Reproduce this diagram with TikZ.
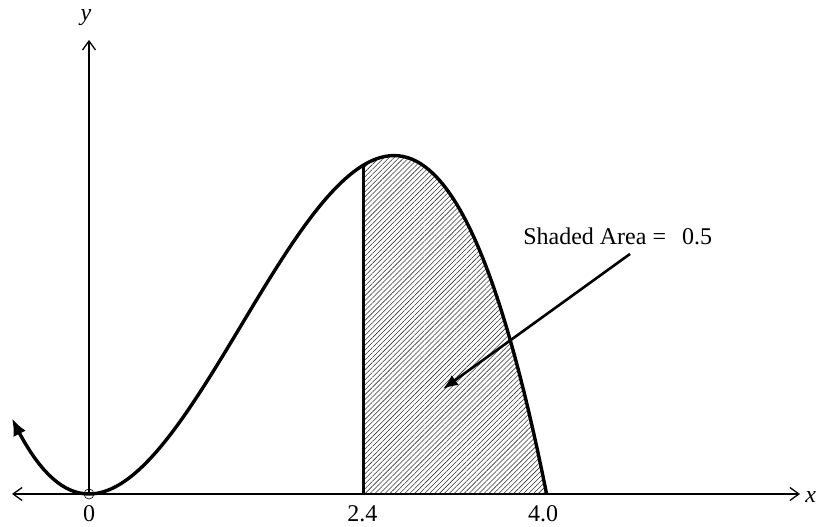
\documentclass[tikz,border=0pt]{standalone}
\usepackage{fontspec}
\setmainfont{Liberation Serif}
\usetikzlibrary{arrows.meta,patterns.meta}

\begin{document}
\begin{tikzpicture}[x=114.4pt,y=114.4pt,font=\fontsize{24}{28}\selectfont]
  \tikzset{
    axis/.style={line width=1.3pt,{Straight Barb[length=9pt,width=13pt]}-{Straight Barb[length=9pt,width=13pt]}},
    curve/.style={line width=3.4pt},
    hatch/.style={pattern={Lines[angle=45,distance=3.5pt,line width=0.55pt]},pattern color=black!80},
    tick/.style={anchor=north,inner sep=0pt},
    pointer/.style={line width=2.6pt,-{Latex[length=15pt,width=12pt]}}
  }
  \useasboundingbox (-0.778,-0.2885) rectangle (6.381,4.318);
  \coordinate (o) at (0,0);
  \coordinate (xl) at (-0.673,0);
  \coordinate (xr) at (6.215,0);
  \coordinate (yt) at (0,3.969);
  \coordinate (cut) at (2.4,0);
  \coordinate (top) at (2.4,{0.312*2.4*2.4*1.6});
  \coordinate (tail) at (4.729,2.098);
  \coordinate (tip) at (3.094,0.918);
  % shaded part under the curve
  \fill[hatch] (cut) -- plot[domain=2.4:4,samples=60] (\x,{0.312*\x*\x*(4-\x)}) -- cycle;
  % axes
  \draw[axis] (xl) -- (xr);
  \draw[line width=1.3pt,-{Straight Barb[length=9pt,width=13pt]}] (o) -- (yt);
  \draw[line width=0.6pt] (o) circle (0.044);
  \node[anchor=west,inner sep=0pt] (xlab) at (6.26,-0.025) {\textit{x}};
  \node[inner sep=0pt] (ylab) at (-0.026,4.166) {\textit{y}};
  \node[tick] (t0) at (0,-0.1) {0};
  \node[tick] (t24) at (2.39,-0.1) {2.4};
  \node[tick] (t40) at (3.969,-0.1) {4.0};
  % curve
  \draw[curve,{Latex[length=17pt,width=14pt]}-] plot[domain=-0.673:4,samples=120] (\x,{0.312*\x*\x*(4-\x)});
  \draw[curve] (cut) -- (top);
  \node[anchor=base west,inner sep=0pt] (area) at (3.794,2.177) {Shaded Area =\hspace{0.67em}0.5};
  \draw[pointer] (tail) -- (tip);
\end{tikzpicture}
\end{document}
